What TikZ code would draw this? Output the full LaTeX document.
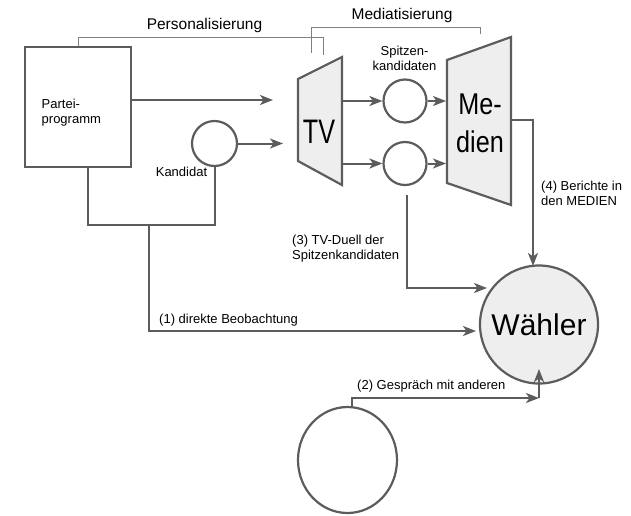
\documentclass[tikz,border=0pt]{standalone}
\usepackage{fontspec}
\setmainfont{Liberation Sans}
\newfontfamily\tvfont[FakeStretch=0.74]{Liberation Sans}
\newfontfamily\medfont[FakeStretch=0.84]{Liberation Sans}
\usetikzlibrary{arrows.meta,shapes.geometric}
\definecolor{ln}{HTML}{5C5C5C}
\definecolor{lightfill}{HTML}{EEEEEE}
\definecolor{brk}{HTML}{808080}
\begin{document}
\begin{tikzpicture}[x=1pt,y=-1pt,
  conn/.style={draw=ln,line width=2pt,line join=miter},
  arr/.style={conn,-{Stealth[length=13pt,width=10pt,inset=3.5pt]}},
  outline/.style={draw=ln,line width=2.2pt,line join=miter},
  bracket/.style={draw=brk,line width=1pt},
  lbl/.style={inner sep=0pt,font=\fontsize{13}{15}\selectfont,text=black},
  head/.style={inner sep=0pt,font=\fontsize{15.5}{18}\selectfont}]
\useasboundingbox (0,0) rectangle (631,515);

% shapes
\node[outline,rectangle,minimum width=106pt,minimum height=120pt,inner sep=0pt,anchor=north west] (partei) at (24,46) {};
\node[lbl,align=left,anchor=north west] (ptext) at (41.5,98.5) {Partei-\\programm};

\node[outline,circle,minimum size=45pt,inner sep=0pt] (kand) at (214.5,143.5) {};
\node[lbl,anchor=base] (kandlbl) at (181.5,176) {Kandidat};

\draw[outline,fill=lightfill] (298,79) -- (342,57) -- (342,185) -- (298,161) -- cycle;
\node[inner sep=0pt,font=\tvfont\fontsize{34}{34}\selectfont,anchor=base] (tv) at (319,143) {TV};

\draw[outline,fill=lightfill] (447,60) -- (511,37) -- (511,205) -- (447,183) -- cycle;
\node[inner sep=0pt,align=center,font=\medfont\fontsize{30}{38}\selectfont,anchor=south] (medien) at (480,153) {Me-\\dien};

\node[outline,circle,minimum size=43pt,inner sep=0pt] (sp1) at (405,101) {};
\node[outline,circle,minimum size=43pt,inner sep=0pt] (sp2) at (405,163.5) {};
\node[lbl,align=center,anchor=south] (splbl) at (404.5,71) {Spitzen-\\kandidaten};

\node[outline,circle,fill=lightfill,minimum size=118pt,inner sep=0pt,font=\fontsize{30}{30}\selectfont] (waehler) at (539,324.5) {Wähler};

\node[outline,ellipse,minimum width=99pt,minimum height=106pt,inner sep=0pt] (andere) at (347.5,460) {};

% coordinates
\coordinate (tvinA) at (273,100);
\coordinate (tvinB) at (283,143.5);
\coordinate (tvout1) at (342,101);
\coordinate (tvout2) at (342,163.5);
\coordinate (medin1) at (446,101);
\coordinate (medin2) at (446,163.5);
\coordinate (medout) at (511,120);
\coordinate (w4) at (533,266);
\coordinate (w3) at (487,288);
\coordinate (ubar) at (149,225);
\coordinate (w1) at (476,331);
\coordinate (g2) at (539,398);
\coordinate (w2) at (539,369);
\coordinate (pbr) at (323,55);
\coordinate (ptop) at (323,37);
\coordinate (mbl) at (311,53);
\coordinate (mtop) at (480,27);
\coordinate (mbr) at (480,34);

% connectors
\draw[arr] (partei.east |- tvinA) -- (tvinA);
\draw[arr] (kand.east) -- (tvinB);
\draw[arr] (tvout1) -- (sp1.west);
\draw[arr] (tvout2) -- (sp2.west);
\draw[arr] (sp1.east) -- (medin1);
\draw[arr] (sp2.east) -- (medin2);
\draw[arr] (medout) -| (w4);
\draw[arr] ([xshift=2pt,yshift=-9pt]sp2.south) |- (w3);
\draw[conn] ([xshift=10pt]partei.south) |- (kand.south |- ubar) -- (kand.south);
\draw[arr] (ubar) |- (w1);
\draw[arr] ([xshift=4.5pt]andere.north) |- (g2);
\draw[arr] (g2) -- (w2);

% brackets
\draw[bracket] (partei.north) |- (ptop) -- (pbr);
\draw[bracket] (mbl) |- (mtop) -- (mbr);

% labels
\node[head,anchor=base] (perslbl) at (204.5,29) {Personalisierung};
\node[head,anchor=base] (medlbl) at (402,19) {Mediatisierung};
\node[lbl,anchor=base west] (l1) at (159,323) {(1) direkte Beobachtung};
\node[lbl,anchor=base west] (l2) at (357,389) {(2) Gespräch mit anderen};
\node[lbl,align=left,anchor=north west] (l3) at (292,235) {(3) TV-Duell der\\Spitzenkandidaten};
\node[lbl,align=left,anchor=north west] (l4) at (541,180.5) {(4) Berichte in\\den MEDIEN};
\end{tikzpicture}
\end{document}
